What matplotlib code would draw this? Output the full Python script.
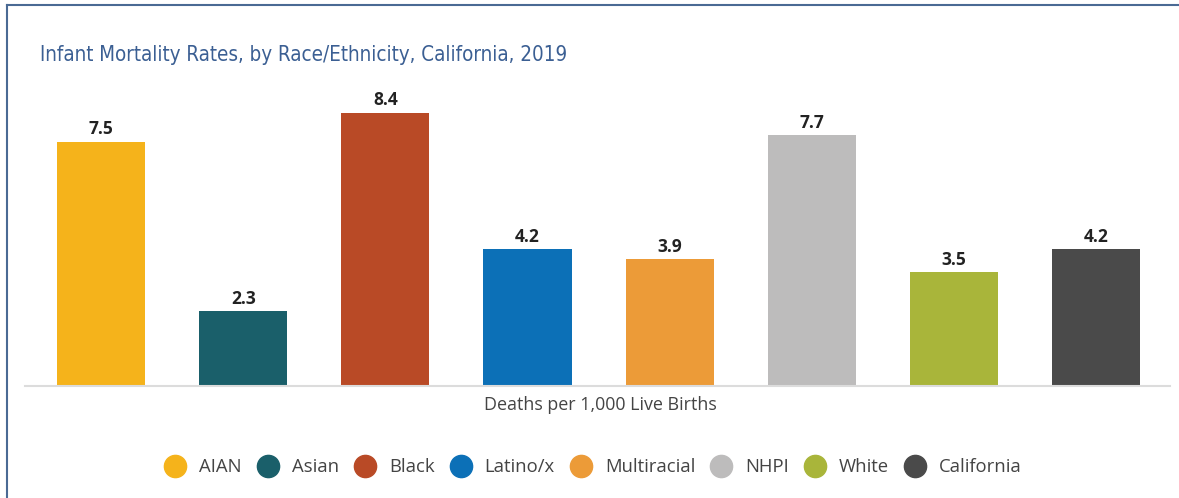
import matplotlib
matplotlib.use("Agg")
import matplotlib.pyplot as plt
from matplotlib.lines import Line2D
from matplotlib import font_manager

categories = ["AIAN", "Asian", "Black", "Latino/x", "Multiracial", "NHPI", "White", "California"]
values = [7.5, 2.3, 8.4, 4.2, 3.9, 7.7, 3.5, 4.2]
colors = ["#f5b31b", "#1a5f6a", "#b94a26", "#0c70b7", "#ec9b38", "#bdbcbc", "#a9b53a", "#4a4a4a"]
title = "Infant Mortality Rates, by Race/Ethnicity, California, 2019"
xlabel = "Deaths per 1,000 Live Births"

names = {f.name for f in font_manager.fontManager.ttflist}
title_family = "Liberation Sans Narrow" if "Liberation Sans Narrow" in names else "DejaVu Sans"

fig = plt.figure(figsize=(11.79, 4.98), dpi=100)
W, H = 1179, 498

# border lines (top and left)
fig.add_artist(Line2D([7 / W, 1.0], [1 - 5 / H, 1 - 5 / H], color="#4a6a94", lw=1.5))
fig.add_artist(Line2D([7 / W, 7 / W], [0, 1 - 5 / H], color="#4a6a94", lw=1.5))

ax = fig.add_axes([25 / W, 1 - 386 / H, (1170 - 25) / W, (386 - 93) / H])
x = list(range(len(categories)))
ax.bar(x, values, width=0.62, color=colors, zorder=2)
ax.set_xlim(-0.535, 7.52)
ax.set_ylim(0, 9)
for s in ["top", "right", "left"]:
    ax.spines[s].set_visible(False)
ax.spines["bottom"].set_color("#dcdcdc")
ax.spines["bottom"].set_linewidth(1.5)
ax.set_xticks([])
ax.set_yticks([])

for xi, v in zip(x, values):
    ax.annotate(f"{v:.1f}", (xi, v), xytext=(0, 2.5), textcoords="offset points",
                ha="center", va="bottom", fontsize=12.5, fontweight="bold",
                family="Open Sans", color="#222222")

fig.text(40 / W, 1 - 55 / H, title, fontsize=14.8, family=title_family,
         fontstretch="condensed", color="#3b5f93", ha="left", va="center")

fig.text(600 / W, 1 - 405 / H, xlabel, fontsize=12.9, family="Open Sans",
         color="#444444", ha="center", va="center")

handles = [Line2D([], [], marker="o", linestyle="", markersize=16,
                  markerfacecolor=c, markeredgecolor=c) for c in colors]
leg = fig.legend(handles, categories, loc="center", bbox_to_anchor=(593 / W, 1 - 467 / H),
                 ncol=len(categories), frameon=False, handletextpad=0.7, handlelength=1.2,
                 columnspacing=0.81, prop={"family": "Open Sans", "size": 13.3})
for t in leg.get_texts():
    t.set_color("#444444")

fig.savefig("out.png", dpi=100, facecolor="white")
